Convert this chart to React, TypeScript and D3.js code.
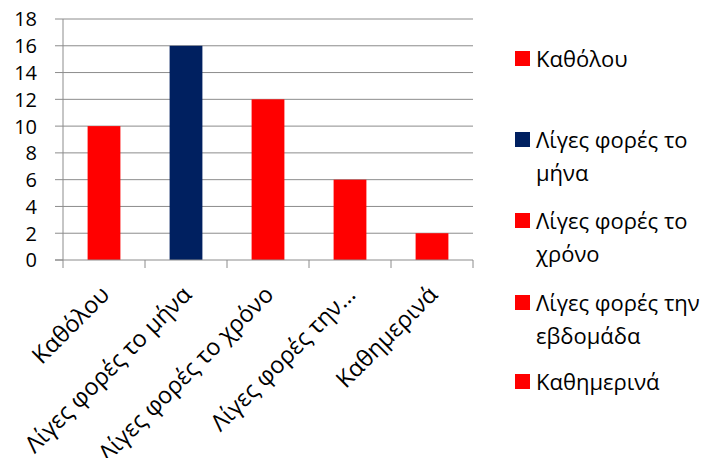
import React from "react";
import * as d3 from "d3";

const categories = ["Καθόλου", "Λίγες φορές το μήνα", "Λίγες φορές το χρόνο", "Λίγες φορές την εβδομάδα", "Καθημερινά"];
const axisLabels = ["Καθόλου", "Λίγες φορές το μήνα", "Λίγες φορές το χρόνο", "Λίγες φορές την…", "Καθημερινά"];
const values = [10, 16, 12, 6, 2];
const barColors = ["#FF0000", "#002060", "#FF0000", "#FF0000", "#FF0000"];
const yTicks = [0, 2, 4, 6, 8, 10, 12, 14, 16, 18];
const legendLines = [["Καθόλου"], ["Λίγες φορές το", "μήνα"], ["Λίγες φορές το", "χρόνο"], ["Λίγες φορές την", "εβδομάδα"], ["Καθημερινά"]];

const W = 714, H = 458;
const FONT = "'Open Sans', 'Noto Sans', sans-serif";

export default function App() {
  const x = d3.scaleBand<string>().domain(categories).range([63, 473]).paddingInner(0.6).paddingOuter(0.3);
  const y = d3.scaleLinear().domain([0, 18]).range([260, 19]);
  const step = x.step();
  const bounds = d3.range(categories.length + 1).map((i) => 63 + i * step);
  const legendBase = [67, 148, 229, 311, 390];

  return (
    <svg width={W} height={H} style={{ position: "absolute", left: 0, top: 0, background: "#fff" }} fontFamily={FONT}>
      {yTicks.map((t) => (
        <g key={t}>
          {t > 0 && <line x1={63} x2={473} y1={y(t)} y2={y(t)} stroke="#8c8c8c" strokeWidth={1} />}
          <line x1={55} x2={63} y1={y(t)} y2={y(t)} stroke="#8c8c8c" strokeWidth={1} />
          <text x={37} y={y(t)} dy="0.37em" textAnchor="end" fontSize={20} fill="#000">{t}</text>
        </g>
      ))}
      {categories.map((c, i) => (
        <rect key={c} x={x(c)} y={y(values[i])} width={x.bandwidth()} height={y(0) - y(values[i])} fill={barColors[i]} />
      ))}
      <line x1={63} x2={63} y1={19} y2={260} stroke="#8c8c8c" strokeWidth={1} />
      <line x1={55} x2={473} y1={260} y2={260} stroke="#8c8c8c" strokeWidth={1} />
      {bounds.map((b, i) => (
        <line key={i} x1={b} x2={b} y1={260} y2={268} stroke="#8c8c8c" strokeWidth={1} />
      ))}
      {categories.map((c, i) => {
        const cx = (x(c) as number) + x.bandwidth() / 2;
        return (
          <text key={c} transform={`translate(${cx + 7},${296}) rotate(-45)`} textAnchor="end" fontSize={23.5} fill="#000">
            {axisLabels[i]}
          </text>
        );
      })}
      {legendLines.map((lines, i) => (
        <g key={i}>
          <rect x={515} y={legendBase[i] - 16} width={15} height={15} fill={barColors[i]} />
          {lines.map((l, j) => (
            <text key={j} x={536} y={legendBase[i] + j * 33} fontSize={22} fill="#000">{l}</text>
          ))}
        </g>
      ))}
    </svg>
  );
}
